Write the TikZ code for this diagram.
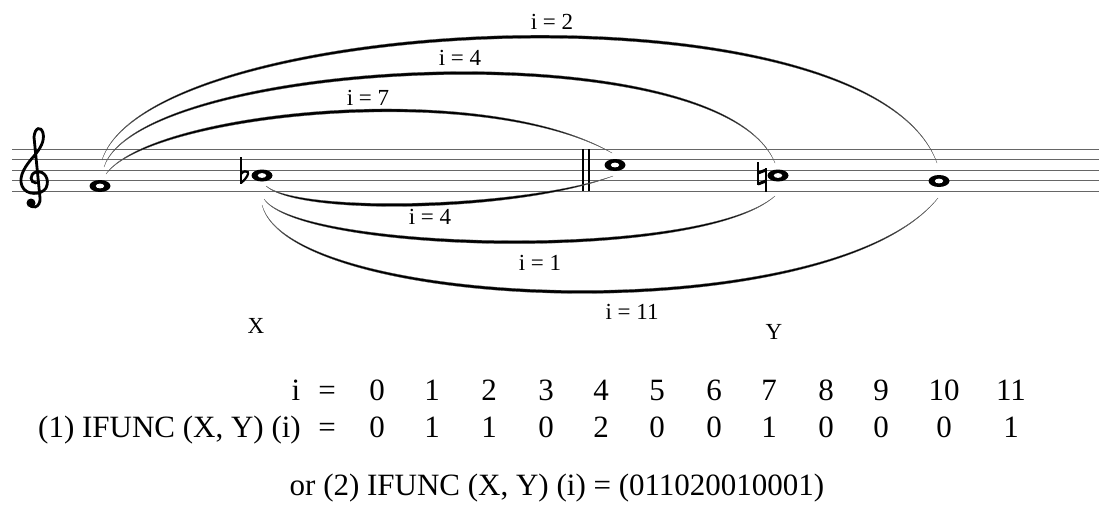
\documentclass[tikz,border=0pt]{standalone}
\usepackage{fontspec}
\setmainfont{Liberation Serif}
\usetikzlibrary{calc,shapes.geometric}

% slur drawn as a thin crescent: start, control 1, control 2, end, thickness
\newcommand{\slurarc}[5]{%
  \filldraw[slur] #1 .. controls #2 and #3 .. #4
    .. controls ($#3+(0,#5)$) and ($#2+(0,#5)$) .. #1 -- cycle;}

\begin{document}
\begin{tikzpicture}[x=1pt,y=-1pt,
  staffline/.style={line width=1.3pt,black!60},
  notehead/.style={ellipse,fill=black,minimum width=21pt,minimum height=12pt,
                   inner sep=0pt,
                   path picture={\fill[white,shift={(path picture bounding box.center)},rotate=35]
                     (0,0) ellipse [x radius=4.2pt,y radius=2.4pt];}},
  slur/.style={line width=0.3pt,draw=black!60,fill=black},
  lbl/.style={font=\fontsize{23}{23}\selectfont,inner sep=0pt},
  tbl/.style={font=\fontsize{31}{31}\selectfont,inner sep=0pt,anchor=base},
]
  \useasboundingbox (0,0) rectangle (1099,517);

  % Staff
  \foreach \y in {149.3,159.8,170.3,180.8,191.3}
    \draw[staffline] (12,\y) -- (1099,\y);

  % Treble clef
  \draw[line width=2.8pt,line cap=round]
    (36,183) .. controls (30,183) and (29,174) .. (36,172)
    .. controls (45,170) and (50,180) .. (46,188)
    .. controls (42,195) and (26,196) .. (22,186)
    .. controls (18,176) and (26,165) .. (34,156)
    .. controls (40,149) and (45,141) .. (43,133)
    .. controls (41,126) and (35,127) .. (34,137)
    -- (40,198)
    .. controls (41,208) and (30,210) .. (30,203);
  \fill (31,203) circle (4.5);

  % Double bar
  \draw[line width=1.4pt] (583,149.3) -- (583,191.3);
  \draw[line width=1.4pt] (589,149.3) -- (589,191.3);

  % Notes
  \node[notehead] (f)  at (100,186)   {};
  \node[notehead] (ab) at (262,175.5) {};
  \node[notehead] (c)  at (615,165)   {};
  \node[notehead] (a)  at (778,175.5) {};
  \node[notehead] (g)  at (939,181)   {};

  % Flat and natural
  \draw[line width=1.2pt] (241,157) -- (241,184);
  \draw[line width=2.2pt] (241,174) .. controls (246,168) and (254,172) .. (241,183);
  \draw[line width=1.1pt] (758,162) -- (758,185);
  \draw[line width=1.1pt] (766,168) -- (766,192);
  \draw[line width=3pt] (758,173) -- (766,170);
  \draw[line width=3pt] (758,184) -- (766,181);

  % Slurs above
  \slurarc{($(f)+(2,-26)$)}{(150,15)}{(870,-20)}{($(g)+(-2,-18)$)}{-4}
  \slurarc{($(f)+(4,-19)$)}{(140,60)}{(720,30)}{($(a)+(-3,-12.5)$)}{-4}
  \slurarc{($(f)+(6,-12)$)}{(150,115)}{(480,80)}{($(c)+(-3,-12)$)}{-4}

  % Slurs below
  \slurarc{($(ab)+(4,10.5)$)}{(300,213)}{(520,208)}{($(c)+(-2,11)$)}{4}
  \slurarc{($(ab)+(2,23.5)$)}{(300,250)}{(700,260)}{($(a)+(-3,20.5)$)}{4}
  \slurarc{($(ab)+(0,29.5)$)}{(290,310)}{(830,330)}{($(g)+(-1,17)$)}{4}

  % Interval labels
  \node[lbl] (l2)  at (552,22)  {i = 2};
  \node[lbl] (l4a) at (460,58)  {i = 4};
  \node[lbl] (l7)  at (368,98)  {i = 7};
  \node[lbl] (l4b) at (430,217) {i = 4};
  \node[lbl] (l1)  at (540,263) {i = 1};
  \node[lbl] (l11) at (632,312) {i = 11};
  \node[lbl] (xset) at (256,326) {X};
  \node[lbl] (yset) at (774,332) {Y};

  % Table
  \node[tbl] (ihead) at (296,400) {i};
  \node[tbl] (eqa) at (327,400) {=};
  \node[tbl,anchor=base east] (func) at (301,437) {(1) IFUNC (X, Y) (i)};
  \node[tbl] (eqb) at (327,437) {=};
  \foreach \k/\x/\v in {0/377/0,1/432/1,2/489/1,3/546/0,4/601/2,5/657/0,
                        6/714/0,7/769/1,8/826/0,9/881/0,10/944/0,11/1011/1} {
    \node[tbl] (i\k) at (\x,400) {\k};
    \node[tbl] (v\k) at (\x,437) {\v};
  }
  \node[tbl] (alt) at (557,495) {or (2) IFUNC (X, Y) (i) = (011020010001)};
\end{tikzpicture}
\end{document}
